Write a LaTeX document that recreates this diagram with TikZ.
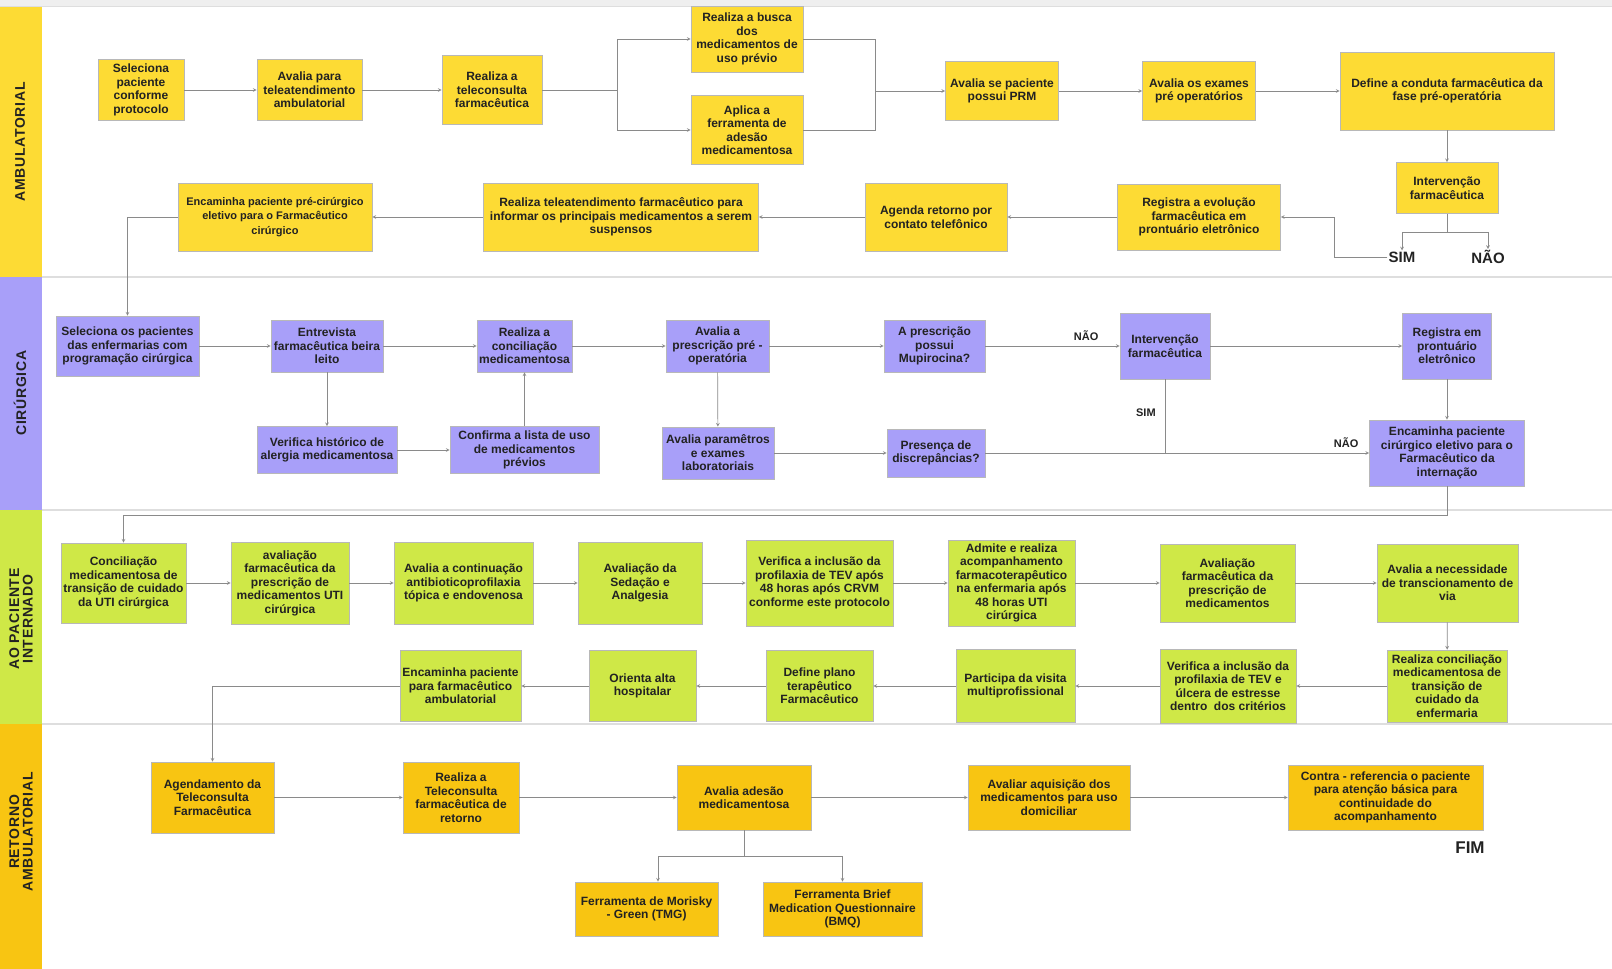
\documentclass[tikz,border=0pt]{standalone}
\usepackage{fontspec}
\setmainfont{Liberation Sans}
\newfontfamily\raiafam{Liberation Sans}[LetterSpace=5]
\usetikzlibrary{positioning}

\definecolor{amarelo}{HTML}{FDDB34}
\definecolor{lilas}{HTML}{A89FF9}
\definecolor{limao}{HTML}{CFE847}
\definecolor{laranja}{HTML}{F8C512}
\definecolor{cinzaseta}{HTML}{8A8A8A}
\definecolor{cinzatopo}{HTML}{EFEFEF}
\definecolor{divisa}{HTML}{DEDEDE}
\definecolor{textoescuro}{HTML}{222222}

\newcommand{\caixatexto}{\bfseries\fontsize{12}{13.5}\selectfont}

\begin{document}
\begin{tikzpicture}[x=1pt, y=-1pt, >=stealth,
	caixa/.style = {draw=black!28, line width=0.6pt, align=center, font=\caixatexto, text=textoescuro, inner sep=2pt},
	ambu/.style = {caixa, fill=amarelo},
	ciru/.style = {caixa, fill=lilas},
	inter/.style = {caixa, fill=limao},
	reto/.style = {caixa, fill=laranja},
	tam/.style 2 args = {minimum width=#1pt, minimum height=#2pt},
	seta/.style = {->, draw=cinzaseta, line width=0.7pt},
	linha/.style = {draw=cinzaseta, line width=0.7pt},
	raia/.style = {rotate=90, font=\raiafam\bfseries\fontsize{14}{13.5}\selectfont, text=textoescuro, align=center},
	rotulo/.style = {font=\bfseries\fontsize{15}{17}\selectfont, text=textoescuro, inner sep=1pt},
	rotulopeq/.style = {font=\bfseries\fontsize{11}{13}\selectfont, text=textoescuro, inner sep=1pt}]
					\useasboundingbox (0,0) rectangle (1612,969);
					\fill[white] (0,0) rectangle (1612,969);
					% raias
					\fill[cinzatopo] (0,0) rectangle (1612,6);
					\draw[divisa] (0,6.5) -- (1612,6.5);
					\fill[amarelo] (0,7) rectangle (42,277);
					\fill[lilas] (0,277) rectangle (42,510);
					\fill[limao] (0,510) rectangle (42,724);
					\fill[laranja] (0,724) rectangle (42,969);
					\foreach \y in {277,510,724} \draw[divisa, line width=1.2pt] (42,\y) -- (1612,\y);
					\node[raia] at (20,142) {AMBULATORIAL};
					\node[raia] at (20,393) {CIRÚRGICA};
					\node[raia] at (21,619) {AO PACIENTE\\INTERNADO};
					\node[raia] at (21,832) {RETORNO\\AMBULATORIAL};
					% ambulatorial
					\node[ambu, tam={86}{61}] (sel) at (141,90) {Seleciona\\paciente\\conforme\\protocolo};
					\node[ambu, tam={105}{61}] (aval) at (309.5,90) {Avalia para\\teleatendimento\\ambulatorial};
					\node[ambu, tam={100}{69}] (telec) at (492,90) {Realiza a\\teleconsulta\\farmacêutica};
					\node[ambu, tam={112}{66}] (busca) at (747,39) {Realiza a busca\\dos\\medicamentos de\\uso prévio};
					\node[ambu, tam={112}{69}] (aplica) at (747,130) {Aplica a\\ferramenta de\\adesão\\medicamentosa};
					\node[ambu, tam={113}{59}] (prm) at (1002,91) {Avalia se paciente\\possui PRM};
					\node[ambu, tam={113}{59}] (exames) at (1199,91) {Avalia os exames\\pré operatórios};
					\node[ambu, tam={214}{78}] (conduta) at (1447,91) {Define a conduta farmacêutica da\\fase pré-operatória};
					\node[ambu, tam={102}{51}] (interv) at (1447,188) {Intervenção\\farmacêutica};
					\node[ambu, tam={163}{66}] (registra) at (1199,217) {Registra a evolução\\farmacêutica em\\prontuário eletrônico};
					\node[ambu, tam={142}{68}] (agenda) at (936,217) {Agenda retorno por\\contato telefônico};
					\node[ambu, tam={275}{68}] (tele2) at (621,217) {Realiza teleatendimento farmacêutico para\\informar os principais medicamentos a serem\\suspensos};
					\node[ambu, tam={194}{68}, font=\bfseries\fontsize{11}{14.5}\selectfont] (enc) at (275,217) {Encaminha paciente pré-cirúrgico\\eletivo para o Farmacêutico\\cirúrgico};
					\node[rotulo] (sim) at (1402,257) {SIM};
					\node[rotulo] (nao) at (1488,257) {NÃO};
					\coordinate (div1) at (617,90);
					\coordinate (jun1) at (875,91);
					\coordinate (ram) at (1447,232);
					\coordinate (dobra) at (1334,257);
					\draw[seta] (sel) -- (aval);
					\draw[seta] (aval) -- (telec);
					\draw[linha] (telec) -- (div1);
					\draw[seta] (div1) |- (busca);
					\draw[seta] (div1) |- (aplica);
					\draw[linha] (busca) -| (jun1) (aplica) -| (jun1);
					\draw[seta] (jun1) -- (prm);
					\draw[seta] (prm) -- (exames);
					\draw[seta] (exames) -- (conduta);
					\draw[seta] (conduta) -- (interv);
					\draw[linha] (interv) -- (ram);
					\draw[seta] (ram) -| (sim);
					\draw[seta] (ram) -| (nao);
					\draw[seta] (sim) -- (dobra) |- (registra);
					\draw[seta] (registra) -- (agenda);
					\draw[seta] (agenda) -- (tele2);
					\draw[seta] (tele2) -- (enc);
					% cirurgica
					\node[ciru, tam={143}{60}] (sel2) at (127.5,346) {Seleciona os pacientes\\das enfermarias com\\programação cirúrgica};
					\node[ciru, tam={112}{52}] (entrev) at (327,346) {Entrevista\\farmacêutica beira\\leito};
					\node[ciru, tam={95}{52}] (concil) at (524.5,346) {Realiza a\\conciliação\\medicamentosa};
					\node[ciru, tam={103}{52}] (prescr) at (717.5,346) {Avalia a\\prescrição pré -\\operatória};
					\node[ciru, tam={101}{52}] (mupi) at (934.5,346) {A prescrição\\possui\\Mupirocina?};
					\node[ciru, tam={90}{66}] (interv2) at (1165,346) {Intervenção\\farmacêutica};
					\node[ciru, tam={89}{66}] (reg2) at (1447,346) {Registra em\\prontuário\\eletrônico};
					\node[ciru, tam={140}{47}] (verif) at (327,450) {Verifica histórico de\\alergia medicamentosa};
					\node[ciru, tam={149}{47}] (confirma) at (524.5,450) {Confirma a lista de uso\\de medicamentos\\prévios};
					\node[ciru, tam={112}{52}] (param) at (718,453) {Avalia paramêtros\\e exames\\laboratoriais};
					\node[ciru, tam={98}{48}] (discrep) at (936,453) {Presença de\\discrepâncias?};
					\node[ciru, tam={155}{66}] (enc2) at (1447,453) {Encaminha paciente\\cirúrgico eletivo para o\\Farmacêutico da\\internação};
					\coordinate (jsim) at (1165,453);
					\coordinate (retorno1) at (1447,515);
					\draw[seta] (enc) -| (sel2);
					\draw[seta] (sel2) -- (entrev);
					\draw[seta] (entrev) -- (concil);
					\draw[seta] (concil) -- (prescr);
					\draw[seta] (prescr) -- (mupi);
					\draw[seta] (mupi) -- node[rotulopeq, pos=0.75, above=4pt] {NÃO} (interv2);
					\draw[seta] (interv2) -- (reg2);
					\draw[seta] (reg2) -- (enc2);
					\draw[seta] (entrev) -- (verif);
					\draw[seta] (verif) -- (confirma);
					\draw[seta] (confirma) -- (concil);
					\draw[seta] (prescr) -- (param);
					\draw[seta] (param) -- (discrep);
					\draw[seta] (discrep) -- node[rotulopeq, pos=0.94, above=4pt] {NÃO} (enc2);
					\draw[linha] (jsim) -- node[rotulopeq, pos=0.55, left=8pt] {SIM} (interv2);
					% internado
					\node[inter, tam={125}{80}] (c1) at (123.5,583) {Conciliação\\medicamentosa de\\transição de cuidado\\da UTI cirúrgica};
					\node[inter, tam={118}{82}] (c2) at (290,583) {avaliação\\farmacêutica da\\prescrição de\\medicamentos UTI\\cirúrgica};
					\node[inter, tam={139}{82}] (c3) at (463.5,583) {Avalia a continuação\\antibioticoprofilaxia\\tópica e endovenosa};
					\node[inter, tam={124}{82}] (c4) at (640,583) {Avaliação da\\Sedação e\\Analgesia};
					\node[inter, tam={147}{86}] (c5) at (819.5,583) {Verifica a inclusão da\\profilaxia de TEV após\\48 horas após CRVM\\conforme este protocolo};
					\node[inter, tam={127}{86}] (c6) at (1011.5,583) {Admite e realiza\\acompanhamento\\farmacoterapêutico\\na enfermaria após\\48 horas UTI\\cirúrgica};
					\node[inter, tam={135}{78}] (c7) at (1227.5,583) {Avaliação\\farmacêutica da\\prescrição de\\medicamentos};
					\node[inter, tam={141}{78}] (c8) at (1447.5,583) {Avalia a necessidade\\de transcionamento de\\via};
					\node[inter, tam={120}{72}] (d1) at (1447,686) {Realiza conciliação\\medicamentosa de\\transição de\\cuidado da\\enfermaria};
					\node[inter, tam={136}{74}] (d2) at (1228,686) {Verifica a inclusão da\\profilaxia de TEV e\\úlcera de estresse\\dentro\ \ dos critérios};
					\node[inter, tam={119}{73}] (d3) at (1015.5,686) {Participa da visita\\multiprofissional};
					\node[inter, tam={107}{71}] (d4) at (819.5,686) {Define plano\\terapêutico\\Farmacêutico};
					\node[inter, tam={107}{71}] (d5) at (642.5,686) {Orienta alta\\hospitalar};
					\node[inter, tam={121}{71}] (d6) at (460.5,686) {Encaminha paciente\\para farmacêutico\\ambulatorial};
					\draw[seta] (enc2) -- (retorno1) -| (c1);
					\draw[seta] (c1) -- (c2);
					\draw[seta] (c2) -- (c3);
					\draw[seta] (c3) -- (c4);
					\draw[seta] (c4) -- (c5);
					\draw[seta] (c5) -- (c6);
					\draw[seta] (c6) -- (c7);
					\draw[seta] (c7) -- (c8);
					\draw[seta] (c8) -- (d1);
					\draw[seta] (d1) -- (d2);
					\draw[seta] (d2) -- (d3);
					\draw[seta] (d3) -- (d4);
					\draw[seta] (d4) -- (d5);
					\draw[seta] (d5) -- (d6);
					% retorno
					\node[reto, tam={123}{71}] (r1) at (212.5,797.5) {Agendamento da\\Teleconsulta\\Farmacêutica};
					\node[reto, tam={116}{71}] (r2) at (461,797.5) {Realiza a\\Teleconsulta\\farmacêutica de\\retorno};
					\node[reto, tam={134}{65}] (r3) at (744,797.5) {Avalia adesão\\medicamentosa};
					\node[reto, tam={162}{65}] (r4) at (1049,797.5) {Avaliar aquisição dos\\medicamentos para uso\\domiciliar};
					\node[reto, tam={195}{65}] (r5) at (1385.5,797.5) {Contra - referencia o paciente\\para atenção básica para\\continuidade do\\acompanhamento};
					\node[reto, tam={143}{54}] (t1) at (646.5,909) {Ferramenta de Morisky\\- Green (TMG)};
					\node[reto, tam={159}{54}] (t2) at (842.5,909) {Ferramenta Brief\\Medication Questionnaire\\(BMQ)};
					\node[rotulo, font=\bfseries\fontsize{17}{19}\selectfont] (fim) at (1470,848) {FIM};
					\coordinate (ram2) at (744,856);
					\coordinate (pt1) at (658,856);
					\draw[seta] (d6) -| (r1);
					\draw[seta] (r1) -- (r2);
					\draw[seta] (r2) -- (r3);
					\draw[seta] (r3) -- (r4);
					\draw[seta] (r4) -- (r5);
					\draw[linha] (r3) -- (ram2);
					\draw[seta] (ram2) -- (pt1) -- (t1.north -| pt1);
					\draw[seta] (ram2) -| (t2);
				\end{tikzpicture}
\end{document}
